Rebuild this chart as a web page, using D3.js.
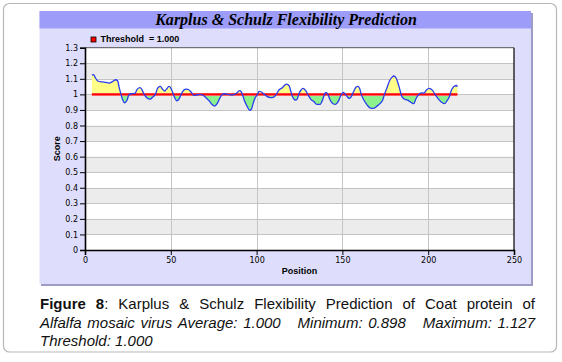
<!DOCTYPE html>
<html><head><meta charset="utf-8">
<script src="https://cdn.jsdelivr.net/npm/d3@7"></script>
<style>html,body{margin:0;padding:0;background:#fff;}svg{display:block;}</style>
</head><body>
<script>
const positions = [
  4,5,6,7.5,10,12,14,16,18,19,
  20,21,22,23,24.5,25.5,27,29,30.5,32,
  33,34.5,36,38,39.5,41,42.5,44,45,46.5,
  47.5,49,50,51.5,52.5,53.5,55,56,57.5,59,
  60.5,62,63.5,65,67,68.5,70.5,72.5,74,75.5,
  77,78.5,80,81.5,83.5,85.5,87,88.5,90,91,
  92,93,94.5,96,97,98,99,100.5,101.5,102.5,
  104.5,106,108,110,111.5,113,115,116.5,117.5,119,
  120,121,122.5,123.5,124.5,126,127,128.5,130,131.5,
  133.5,135,137,138.5,139.5,140.5,141.5,143,144.5,146,
  147.5,149,150.5,151.5,153,154,155,156.5,158,159,
  160,161,162.5,164.5,166,168,170,172,173.5,174.5,
  176,177.5,179,180,181.5,183,184.5,186,188.5,190.5,
  191.5,193,194.5,196,197.5,199,200.5,202.5,204,206,
  208,209.5,211,212.5,213.5,215,216.5,217
];
const scores = [
  1.124,1.127,1.107,1.086,1.080,1.077,1.073,1.082,1.094,1.088,
  1.040,1.000,0.964,0.946,0.962,0.996,1.004,1.006,1.034,1.043,
  1.034,1.000,0.979,0.970,0.983,1.000,1.043,1.051,1.036,1.021,
  1.034,1.051,1.040,1.000,0.974,0.958,0.974,1.000,1.026,1.034,
  1.030,1.012,0.993,0.996,1.000,0.996,0.979,0.957,0.936,0.925,
  0.940,0.974,1.000,1.004,1.000,0.996,1.000,1.009,1.024,1.017,
  0.991,0.957,0.923,0.898,0.906,0.942,0.974,1.000,1.019,1.017,
  1.000,0.987,0.979,0.983,1.000,1.028,1.043,1.060,1.066,1.054,
  1.017,0.983,0.964,0.966,1.000,1.030,1.039,1.026,0.996,0.970,
  0.953,0.936,0.936,0.966,1.000,1.013,1.000,0.961,0.940,0.936,
  0.953,0.991,1.013,1.004,0.983,0.974,0.983,1.017,1.047,1.051,
  1.039,1.000,0.964,0.931,0.914,0.910,0.923,0.942,0.964,1.000,
  1.043,1.088,1.111,1.118,1.100,1.050,0.990,0.970,0.960,0.945,
  0.940,0.975,1.000,1.010,1.008,1.028,1.039,1.026,1.000,0.970,
  0.948,0.940,0.960,0.990,1.026,1.051,1.057,1.050
];
const threshold = 1.0;
const yTicks = [0,0.1,0.2,0.3,0.4,0.5,0.6,0.7,0.8,0.9,1.0,1.1,1.2,1.3];
const xTicks = [0,50,100,150,200,250];
const chartTitle = "Karplus & Schulz Flexibility Prediction";
const legendLabel = "Threshold  = 1.000";
const xLabel = "Position";
const yLabel = "Score";
const captionLines = [
  [[{t:"Figure",b:1}],[{t:"8",b:1},{t:":"}],[{t:"Karplus"}],[{t:"&"}],[{t:"Schulz"}],[{t:"Flexibility"}],[{t:"Prediction"}],[{t:"of"}],[{t:"Coat"}],[{t:"protein"}],[{t:"of"}]],
  [[{t:"Alfalfa",i:1}],[{t:"mosaic",i:1}],[{t:"virus",i:1}],[{t:"Average:",i:1}],[{t:"1.000",i:1}],[],[],[{t:"Minimum:",i:1}],[{t:"0.898",i:1}],[],[],[{t:"Maximum:",i:1}],[{t:"1.127",i:1}]],
  [[{t:"Threshold:",i:1}],[{t:"1.000",i:1}]]
];

const W = 562, H = 362;
const svg = d3.select("body").append("svg").attr("width", W).attr("height", H);

// outer frame
svg.append("rect").attr("x",3.5).attr("y",3.5).attr("width",553).attr("height",348.5)
  .attr("rx",6).attr("fill","#fff").attr("stroke","#b8b8b8").attr("stroke-width",1.2);

// panel
svg.append("rect").attr("x",41).attr("y",13).attr("width",492).attr("height",273).attr("fill","#9c9cc4");
svg.append("rect").attr("x",39.5).attr("y",11).attr("width",491.5).attr("height",273).attr("fill","#dedefc");
svg.append("rect").attr("x",39.5).attr("y",11).attr("width",491.5).attr("height",17.5).attr("fill","#9d9df9");

const title = svg.append("text").attr("x",286).attr("y",24.5).attr("text-anchor","middle")
  .attr("font-family","'Liberation Serif','DejaVu Serif',serif").attr("font-weight","bold")
  .attr("font-style","italic").attr("font-size",15).attr("fill","#000").text(chartTitle);
const tw = title.node().getComputedTextLength();
title.attr("font-size", 15 * 262 / tw);

const m = {l:85, r:514, t:47.7, b:250};
const x = d3.scaleLinear().domain([0,250]).range([m.l, m.r]);
const y = d3.scaleLinear().domain([0,1.3]).range([m.b, m.t]);

// plot background bands
const g = svg.append("g");
g.append("rect").attr("x",m.l).attr("y",m.t).attr("width",m.r-m.l).attr("height",m.b-m.t).attr("fill","#fff");
g.selectAll("rect.band").data(yTicks.slice(0,-1).filter((d,i)=>i%2===1)).enter().append("rect")
  .attr("class","band").attr("x",m.l).attr("width",m.r-m.l)
  .attr("y",d=>y(d+0.1)).attr("height",d=>y(d)-y(d+0.1)).attr("fill","#ececec");
// grid
g.selectAll("line.hg").data(yTicks.slice(1,-1)).enter().append("line")
  .attr("x1",m.l).attr("x2",m.r).attr("y1",d=>Math.round(y(d))+0.5).attr("y2",d=>Math.round(y(d))+0.5)
  .attr("stroke","#c4c4c4").attr("stroke-width",1);
g.selectAll("line.vg").data(xTicks.slice(1,-1)).enter().append("line")
  .attr("y1",m.t).attr("y2",m.b).attr("x1",d=>Math.round(x(d))+0.5).attr("x2",d=>Math.round(x(d))+0.5)
  .attr("stroke","#c4c4c4").attr("stroke-width",1);

// areas
const data = positions.map((p,i)=>({p, v:scores[i]}));
const defs = svg.append("defs");
defs.append("clipPath").attr("id","above").append("rect")
  .attr("x",m.l).attr("y",m.t).attr("width",m.r-m.l).attr("height",y(threshold)-m.t);
defs.append("clipPath").attr("id","below").append("rect")
  .attr("x",m.l).attr("y",y(threshold)).attr("width",m.r-m.l).attr("height",m.b-y(threshold));
const area = d3.area().x(d=>x(d.p)).y0(y(threshold)).y1(d=>y(d.v)).curve(d3.curveMonotoneX);
svg.append("path").datum(data).attr("d",area).attr("fill","#ffff88").attr("clip-path","url(#above)");
svg.append("path").datum(data).attr("d",area).attr("fill","#8cf08c").attr("clip-path","url(#below)");

// threshold line
svg.append("line").attr("x1",x(positions[0])).attr("x2",x(positions[positions.length-1]))
  .attr("y1",y(threshold)).attr("y2",y(threshold)).attr("stroke","#ff8080").attr("stroke-width",3);
svg.append("line").attr("x1",x(positions[0])).attr("x2",x(positions[positions.length-1]))
  .attr("y1",y(threshold)).attr("y2",y(threshold)).attr("stroke","#ff0000").attr("stroke-width",1.6);

// score line
const line = d3.line().x(d=>x(d.p)).y(d=>y(d.v)).curve(d3.curveMonotoneX);
svg.append("path").datum(data).attr("d",line).attr("fill","none").attr("stroke","#2a3cf0").attr("stroke-width",1.3);

// plot border
svg.append("line").attr("x1",m.l).attr("x2",m.r).attr("y1",m.t).attr("y2",m.t).attr("stroke","#555").attr("stroke-width",1);
svg.append("line").attr("x1",m.r).attr("x2",m.r).attr("y1",m.t).attr("y2",m.b).attr("stroke","#000").attr("stroke-width",1.2);

// axes
const yAxis = d3.axisLeft(y).tickValues(yTicks).tickSize(5).tickPadding(2)
  .tickFormat(d=>d3.format("~g")(+d.toFixed(1)));
const xAxis = d3.axisBottom(x).tickValues(xTicks).tickSize(5).tickPadding(2);
const ya = svg.append("g").attr("transform",`translate(${m.l},0)`).call(yAxis);
const xa = svg.append("g").attr("transform",`translate(0,${m.b})`).call(xAxis);
[ya,xa].forEach(a=>{
  a.select(".domain").attr("stroke","#000").attr("stroke-width",1.6);
  a.selectAll(".tick line").attr("stroke","#000");
  a.selectAll("text").attr("font-family","'DejaVu Sans',sans-serif").attr("font-size",8).attr("fill","#000");
});

// axis titles
svg.append("text").attr("x",m.l+ (m.r-m.l)/2).attr("y",274).attr("text-anchor","middle")
  .attr("font-family","'Liberation Sans',Arial,sans-serif").attr("font-weight","bold").attr("font-size",9).text(xLabel);
svg.append("text").attr("transform",`translate(60,${(m.t+m.b)/2}) rotate(-90)`).attr("text-anchor","middle")
  .attr("font-family","'Liberation Sans',Arial,sans-serif").attr("font-weight","bold").attr("font-size",9).text(yLabel);

// legend
svg.append("rect").attr("x",91).attr("y",37).attr("width",5).attr("height",5)
  .attr("fill","#ff0000").attr("stroke","#000").attr("stroke-width",0.8);
svg.append("text").attr("x",100.5).attr("y",42).style("white-space","pre")
  .attr("font-family","'Liberation Sans',Arial,sans-serif").attr("font-weight","bold").attr("font-size",9)
  .text(legendLabel);

// caption (justified)
const capX0 = 40, capX1 = 535, capY = [309, 327.5, 346];
captionLines.forEach((words, li) => {
  const widths = words.map(w => {
    if (!w.length) return 0;
    const t = svg.append("text").attr("font-family","'Liberation Sans',Arial,sans-serif").attr("font-size",15);
    w.forEach(s => t.append("tspan").attr("font-weight", s.b ? "bold" : "normal").attr("font-style", s.i ? "italic" : "normal").text(s.t));
    const wd = t.node().getComputedTextLength(); t.remove(); return wd;
  });
  const total = d3.sum(widths);
  const justify = li < captionLines.length - 1;
  const gap = justify ? (capX1 - capX0 - total) / (words.length - 1) : 4.2;
  let cx = capX0;
  words.forEach((w, wi) => {
    if (w.length) {
      const t = svg.append("text").attr("x", cx).attr("y", capY[li])
        .attr("font-family","'Liberation Sans',Arial,sans-serif").attr("font-size",15).attr("fill","#111");
      w.forEach(s => t.append("tspan").attr("font-weight", s.b ? "bold" : "normal").attr("font-style", s.i ? "italic" : "normal").text(s.t));
    }
    cx += widths[wi] + gap;
  });
});
</script>
</body></html>
